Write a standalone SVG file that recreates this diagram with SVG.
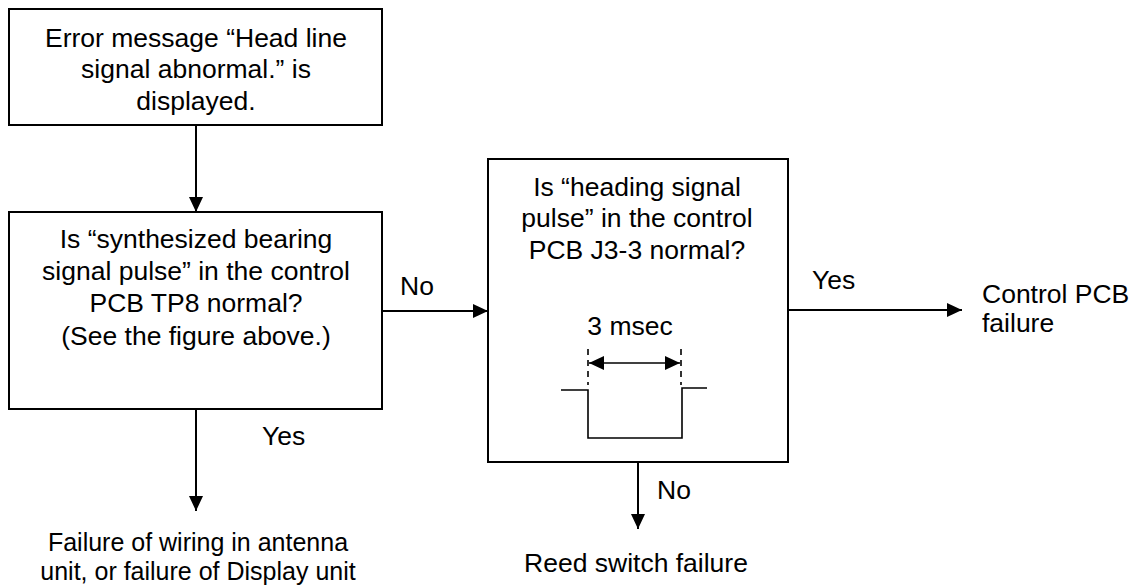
<svg xmlns="http://www.w3.org/2000/svg" width="1140" height="585" viewBox="0 0 1140 585">
<style>
.box{fill:#fff;stroke:#000;stroke-width:2}
.t{font-family:"Liberation Sans",Arial,sans-serif;font-size:26.5px;fill:#000}
.s{font-size:25px}
.c{text-anchor:middle}
.ln{stroke:#000;stroke-width:2;fill:none}
.thin{stroke:#000;stroke-width:1.6;fill:none}
.dash{stroke:#000;stroke-width:1.6;stroke-dasharray:6,5;fill:none}
</style>
<defs>
<marker id="ah" markerUnits="userSpaceOnUse" markerWidth="16" markerHeight="14" refX="15" refY="7" orient="auto">
<path d="M0,0 L15,7 L0,14 z" fill="#000"/>
</marker>
<marker id="sh" markerUnits="userSpaceOnUse" markerWidth="16" markerHeight="14" refX="15" refY="7" orient="auto-start-reverse">
<path d="M0,0 L15,7 L0,14 z" fill="#000"/>
</marker>
</defs>
<rect width="1140" height="585" fill="#fff"/>
<g id="connectors">
<line class="ln" x1="196" y1="125" x2="196" y2="212" marker-end="url(#ah)"/>
<line class="ln" x1="382" y1="311" x2="488" y2="311" marker-end="url(#ah)"/>
<line class="ln" x1="196" y1="409" x2="196" y2="511" marker-end="url(#ah)"/>
<line class="ln" x1="788" y1="310" x2="962" y2="310" marker-end="url(#ah)"/>
<line class="ln" x1="638" y1="462" x2="638" y2="529" marker-end="url(#ah)"/>
<text class="t" x="400" y="295">No</text>
<text class="t" x="262" y="445">Yes</text>
<text class="t" x="812" y="289">Yes</text>
<text class="t" x="657" y="499">No</text>
</g>
<g id="start">
<rect class="box" x="9" y="9" width="373" height="116"/>
<text class="t c" x="196" y="46.5">Error message “Head line</text>
<text class="t c" x="196" y="78">signal abnormal.” is</text>
<text class="t c" x="196" y="109.5">displayed.</text>
</g>
<g id="check-bearing">
<rect class="box" x="9" y="212" width="373" height="197"/>
<text class="t c" x="196" y="248">Is “synthesized bearing</text>
<text class="t c" x="196" y="280">signal pulse” in the control</text>
<text class="t c" x="196" y="312">PCB TP8 normal?</text>
<text class="t c" x="196" y="344.5">(See the figure above.)</text>
</g>
<g id="check-heading">
<rect class="box" x="488" y="159" width="300" height="303"/>
<text class="t c" x="637" y="195.5">Is “heading signal</text>
<text class="t c" x="637" y="227">pulse” in the control</text>
<text class="t c" x="637" y="258.5">PCB J3-3 normal?</text>
<text class="t c" x="630" y="335">3 msec</text>
<line class="dash" x1="588" y1="349" x2="588" y2="385"/>
<line class="dash" x1="681" y1="349" x2="681" y2="385"/>
<line class="thin" x1="589" y1="363" x2="680" y2="363" marker-start="url(#sh)" marker-end="url(#sh)"/>
<polyline class="thin" points="561,390 588,390 588,438 682,438 682,388 707,388"/>
</g>
<g id="wiring-failure">
<text class="t s c" x="198" y="551">Failure of wiring in antenna</text>
<text class="t s c" x="198" y="580">unit, or failure of Display unit</text>
</g>
<g id="control-pcb-failure">
<text class="t" x="982" y="303">Control PCB</text>
<text class="t" x="982" y="332">failure</text>
</g>
<g id="reed-switch-failure">
<text class="t c" x="636" y="572">Reed switch failure</text>
</g>
</svg>
